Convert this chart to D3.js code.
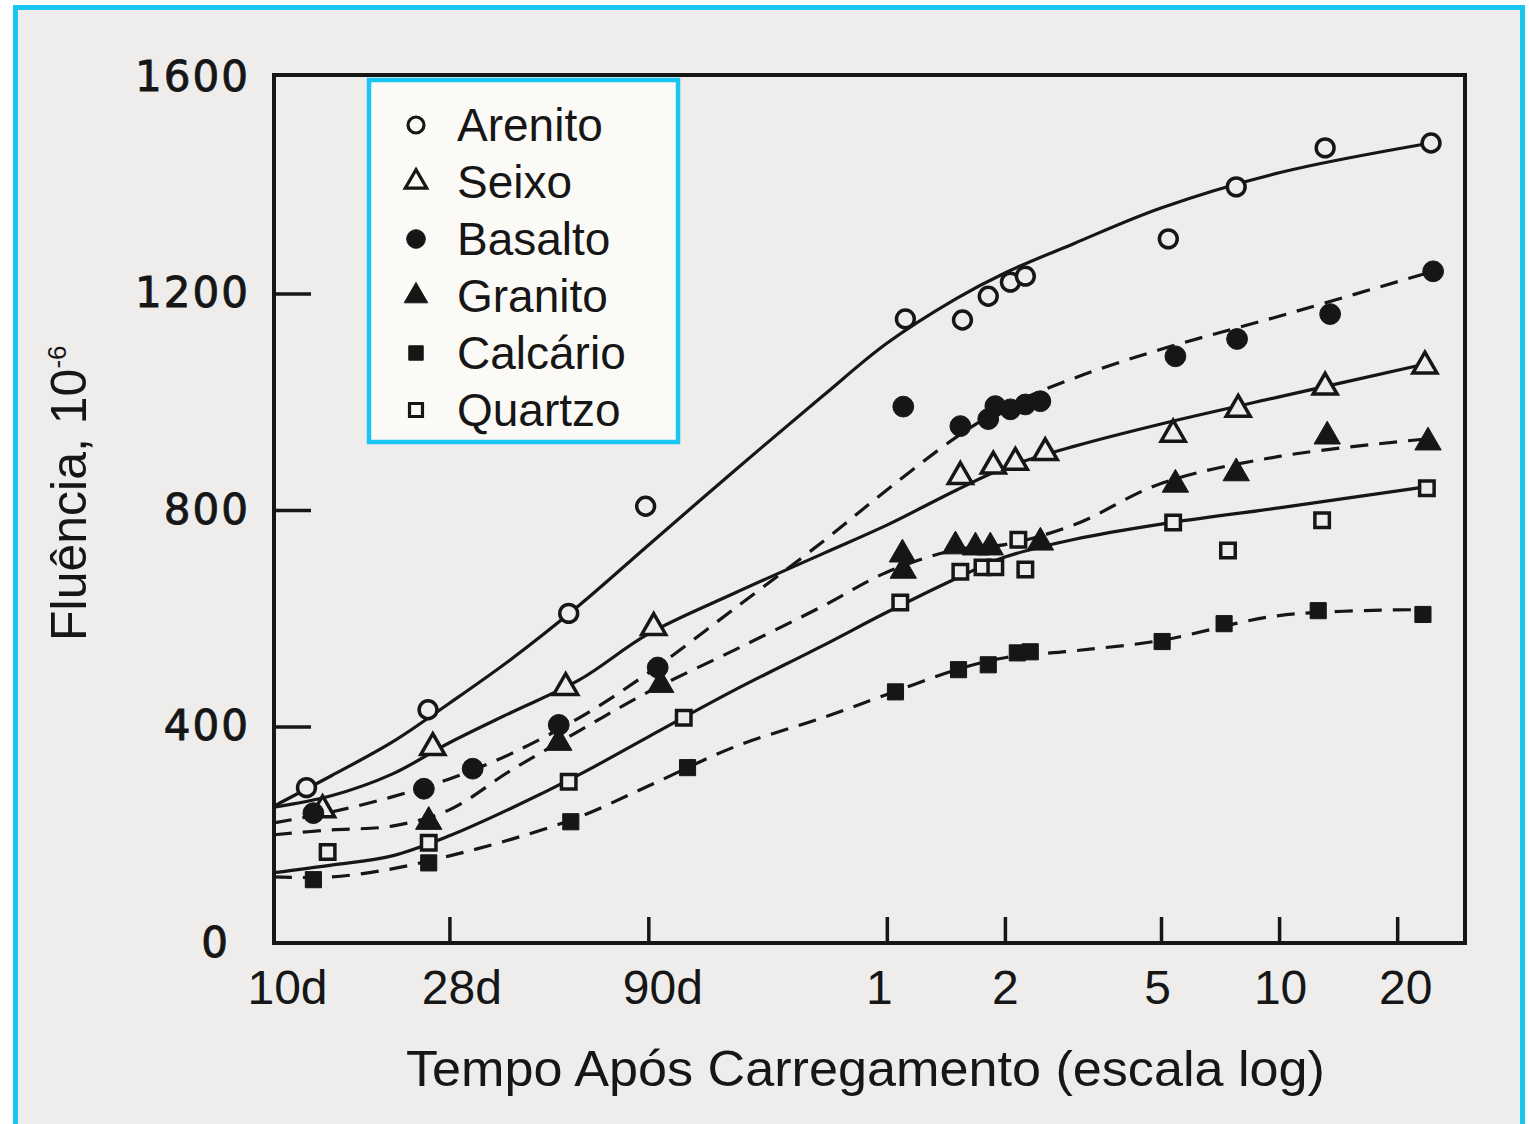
<!DOCTYPE html>
<html><head><meta charset="utf-8">
<script src="https://cdn.jsdelivr.net/npm/d3@7"></script>
<style>
html,body{margin:0;padding:0;background:#fff;}
svg{display:block;}
</style></head><body>
<svg id="chart" width="1529" height="1124"></svg>
<script>
// ---------- DATA (time in days after loading, creep in 10^-6) ----------
const yTicks = [0, 400, 800, 1200, 1600];
const yTickLabels = ["0", "400", "800", "1200", "1600"];
const xTicks = [10, 28, 90, 365, 730, 1825, 3650, 7300];
const xTickLabels = ["10d", "28d", "90d", "1", "2", "5", "10", "20"];

// knots (days) of the hand-drawn fitted curves
const curveDays = [10, 14, 20, 28, 40, 60, 90, 150, 250, 365, 550, 730, 1100, 1825, 3650, 8900];

const arenitoDays = [12.1, 24.7, 56.4, 88.6, 407, 569, 662, 754, 823, 1905, 2838, 4783, 8906];
const arenitoVals = [287, 431, 609, 807, 1153, 1151, 1195, 1221, 1232, 1301, 1397, 1469, 1478];
const arenitoCurve = [253, 309, 371, 443, 523, 624, 735, 874, 1010, 1108, 1191, 1238, 1293, 1358, 1423, 1478];

const seixoDays = [13.3, 25.4, 55.4, 92.9, 562, 682, 776, 925, 1960, 2871, 4783, 8590];
const seixoVals = [246, 361, 472, 583, 862, 881, 888, 906, 940, 986, 1027, 1066];
const seixoCurve = [251, 272, 312, 370, 425, 486, 571, 647, 719, 772, 837, 878, 918, 959, 1009, 1072];

const basaltoDays = [12.6, 24.1, 32.1, 53.2, 95.1, 402, 562, 662, 690, 754, 823, 899, 1986, 2852, 4925, 9016];
const basaltoVals = [240, 285, 322, 403, 509, 991, 955, 968, 992, 986, 995, 1001, 1084, 1116, 1162, 1241];
const basaltoCurve = [222, 242, 270, 303, 349, 416, 499, 619, 741, 837, 935, 990, 1044, 1097, 1158, 1240];

const granitoDays = [24.8, 53.2, 96.8, 400, 402, 546, 614, 670, 899, 1986, 2838, 4842, 8750];
const granitoVals = [224, 370, 477, 718, 688, 733, 731, 731, 740, 847, 868, 936, 925];
const granitoCurve = [200, 209, 216, 246, 318, 392, 464, 542, 622, 685, 727, 736, 773, 849, 899, 932];

const quartzoDays = [13.7, 24.8, 56.4, 110.8, 395, 562, 640, 690, 790, 823, 1960, 2704, 4699, 8690];
const quartzoVals = [168, 185, 298, 416, 629, 686, 694, 694, 745, 690, 777, 725, 781, 840];
const quartzoCurve = [130, 144, 161, 198, 248, 311, 381, 468, 549, 611, 674, 713, 746, 774, 804, 844];

const calcarioDays = [12.6, 24.8, 57.1, 113.3, 384, 556, 662, 785, 847, 1837, 2643, 4592, 8492];
const calcarioVals = [117, 148, 224, 324, 464, 505, 514, 536, 538, 557, 590, 614, 607];
const calcarioCurve = [122, 122, 137, 161, 191, 233, 290, 363, 416, 459, 505, 527, 540, 559, 605, 616];

const seriesNames = ["Arenito", "Seixo", "Basalto", "Granito", "Calcário", "Quartzo"];

// ---------- STYLE ----------
const INK = "#161616", BG = "#eeedeb", CYAN = "#19c6f2", LEGBG = "#fbfaf7";
const W = 1529, H = 1124;
const xLabelShift = {"10d": 13, "28d": 12, "90d": 14, "1": -8, "2": 0, "5": -4, "10": 1, "20": 8};

const series = [
  {days: arenitoDays, vals: arenitoVals, curve: arenitoCurve, sym: d3.symbolCircle, size: 250, filled: false, dashed: false},
  {days: seixoDays, vals: seixoVals, curve: seixoCurve, sym: d3.symbolTriangle, size: 250, filled: false, dashed: false},
  {days: basaltoDays, vals: basaltoVals, curve: basaltoCurve, sym: d3.symbolCircle, size: 340, filled: true, dashed: true},
  {days: granitoDays, vals: granitoVals, curve: granitoCurve, sym: d3.symbolTriangle, size: 300, filled: true, dashed: true},
  {days: calcarioDays, vals: calcarioVals, curve: calcarioCurve, sym: d3.symbolSquare, size: 260, filled: true, dashed: true},
  {days: quartzoDays, vals: quartzoVals, curve: quartzoCurve, sym: d3.symbolSquare, size: 210, filled: false, dashed: false}
];
series.forEach((s, i) => s.name = seriesNames[i]);

const svg = d3.select("#chart");
svg.append("rect").attr("width", W).attr("height", H).attr("fill", "#fff");
svg.append("rect").attr("x", 15.5).attr("y", 7.5).attr("width", 1507).attr("height", 1150)
  .attr("fill", BG).attr("stroke", CYAN).attr("stroke-width", 5);

const x = d3.scaleLog().domain([10, 10870]).range([274, 1465]);
const y = d3.scaleLinear().domain([0, 1600]).range([943, 77]);

// ---------- AXES ----------
const yAxis = d3.axisLeft(y).tickValues(yTicks).tickFormat((d, i) => yTickLabels[i])
  .tickSize(-37).tickPadding(24);
const gy = svg.append("g").attr("transform", `translate(${x.range()[0]},0)`).call(yAxis);
gy.select(".domain").remove();
gy.selectAll(".tick line").attr("stroke", INK).attr("stroke-width", 3.5);
gy.selectAll(".tick").filter(d => d === 0 || d === 1600).select("line").remove();
gy.selectAll(".tick text").attr("font-family", "DejaVu Sans").attr("font-size", 42)
  .attr("fill", INK).attr("stroke", INK).attr("stroke-width", 0.9).attr("letter-spacing", 2);
gy.selectAll(".tick").filter(d => d === 0).select("text").attr("dx", -20);

const xAxis = d3.axisBottom(x).tickValues(xTicks).tickFormat((d, i) => xTickLabels[i])
  .tickSize(-26).tickPadding(27);
const gx = svg.append("g").attr("transform", `translate(0,${y(0)})`).call(xAxis);
gx.select(".domain").remove();
gx.selectAll(".tick line").attr("stroke", INK).attr("stroke-width", 3.5);
gx.selectAll(".tick").filter(d => d === 10).select("line").remove();
gx.selectAll(".tick text").attr("font-family", "Liberation Sans").attr("font-size", 48).attr("fill", INK)
  .attr("dx", (d, i) => xLabelShift[xTickLabels[i]] || 0);

// frame
svg.append("rect").attr("x", x.range()[0]).attr("y", y(1600) - 2)
  .attr("width", x.range()[1] - x.range()[0]).attr("height", y(0) - y(1600) + 2)
  .attr("fill", "none").attr("stroke", INK).attr("stroke-width", 4);

// axis titles
svg.append("text").attr("x", 406).attr("y", 1086).attr("font-family", "Liberation Sans")
  .attr("font-size", 50).attr("fill", INK).attr("textLength", 919).attr("lengthAdjust", "spacingAndGlyphs")
  .text("Tempo Após Carregamento (escala log)");
const yt = svg.append("text").attr("transform", "translate(86,641) rotate(-90)")
  .attr("font-family", "Liberation Sans").attr("font-size", 50).attr("fill", INK);
yt.append("tspan").text("Fluência, 10");
yt.append("tspan").attr("dy", -20).attr("font-size", 26).text("-6");

// ---------- CURVES ----------
const line = d3.line().x((d, i) => x(curveDays[i])).y(d => y(d)).curve(d3.curveCatmullRom.alpha(0.5));
const gl = svg.append("g");
series.forEach(s => {
  gl.append("path").datum(s.curve).attr("d", line).attr("fill", "none")
    .attr("stroke", INK).attr("stroke-width", 3.2)
    .attr("stroke-dasharray", s.dashed ? "18,11" : null);
});

// ---------- MARKERS ----------
const gm = svg.append("g");
series.forEach(s => {
  s.days.forEach((d, i) => {
    gm.append("path").attr("d", d3.symbol().type(s.sym).size(s.size)())
      .attr("transform", `translate(${x(d)},${y(s.vals[i])})`)
      .attr("fill", s.filled ? INK : BG).attr("stroke", INK)
      .attr("stroke-width", s.filled ? 1 : 3.5);
  });
});

// ---------- LEGEND ----------
const lg = svg.append("g");
lg.append("rect").attr("x", 369).attr("y", 80).attr("width", 309).attr("height", 362)
  .attr("fill", LEGBG).attr("stroke", CYAN).attr("stroke-width", 4.5);
series.forEach((s, i) => {
  const cy = 125 + i * 57;
  lg.append("path").attr("d", d3.symbol().type(s.sym).size(s.size * 0.8)())
    .attr("transform", `translate(416,${cy})`)
    .attr("fill", s.filled ? INK : LEGBG).attr("stroke", INK)
    .attr("stroke-width", s.filled ? 1 : 3.2);
  lg.append("text").attr("x", 457).attr("y", cy + 16).attr("font-family", "Liberation Sans")
    .attr("font-size", 46).attr("fill", INK).text(s.name);
});
</script>
</body></html>
